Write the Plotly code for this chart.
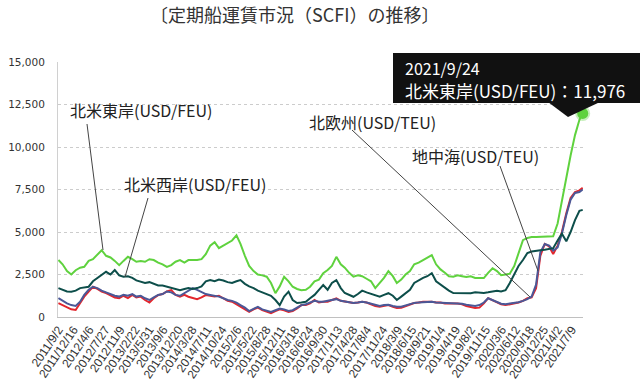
import plotly.graph_objects as go
import pandas as pd

# ---- data (monthly readings, first/last weekly points) ----
dates = ["2011-09-02"] + [f"{y}-{m:02d}-01" for y in range(2011, 2022) for m in range(1, 13)
                          if (y, m) >= (2011, 10) and (y, m) <= (2021, 9)] + ["2021-09-24"]

us_east = [3350, 3100, 2700, 2500, 2750, 2900, 2950, 3300, 3400, 3700,
           3930, 3600, 3500, 3300, 3050, 3300, 3540, 3400, 3250, 3300,
           3250, 3400, 3350, 3200, 3100, 2950, 3050, 3250, 3350, 3200,
           3350, 3350, 3350, 3400, 3700, 4200, 4400, 4050, 4200, 4300,
           4500, 4800, 4300, 3600, 3000, 2700, 2500, 2450, 2370, 2000,
           1400, 1800, 2370, 2100, 1780, 1650, 1580, 1600, 1780, 2100,
           2200, 2580, 2760, 3000, 3540, 3100, 2900, 2600, 2370, 2450,
           2400, 2250, 2100, 1700, 2000, 2300, 2700, 2400, 2000, 2200,
           2500, 2700, 3100, 3200, 3350, 3500, 3640, 3100, 2800, 2600,
           2400, 2370, 2450, 2400, 2350, 2400, 2300, 2300, 2290, 2600,
           2870, 2700, 2460, 2500, 2550, 3000, 3800, 4520, 4650, 4700,
           4700, 4710, 4720, 4750, 4750, 5500, 6900, 8300, 9500, 10700,
           11600, 11976]

us_west = [1700, 1600, 1500, 1490, 1550, 1700, 1750, 1780, 2100, 2290,
           2500, 2660, 2500, 2760, 2450, 2370, 2400, 2300, 2150, 2070,
           2000, 2050, 1950, 1850, 1850, 1780, 1700, 1650, 1580, 1650,
           1700, 1650, 1700, 1800, 2100, 2170, 2100, 2200, 2150, 2050,
           2000, 2100, 2170, 1950, 1800, 1700, 1550, 1450, 1350, 1250,
           1000, 700, 1200, 1490, 1000, 820, 850, 900, 1100, 1300,
           1600, 1880, 1600, 2000, 2170, 1700, 1410, 1300, 1190, 1350,
           1550, 1450, 1350, 1250, 1190, 1300, 1400, 1250, 1000, 1200,
           1410, 1600, 2000, 2170, 2300, 2400, 2580, 2100, 1900, 1700,
           1550, 1410, 1400, 1420, 1410, 1400, 1450, 1420, 1410, 1450,
           1500, 1550, 1500, 1580, 2000, 2500, 3000, 3350, 3760, 3850,
           3900, 3930, 3950, 4000, 4050, 4500, 4900, 4450, 5000, 5700,
           6250, 6300]

n_europe = [820, 700, 550, 450, 410, 800, 1200, 1500, 1780, 1650,
            1500, 1410, 1300, 1150, 1110, 1250, 1110, 1300, 1150, 1200,
            1000, 850, 1100, 1290, 1350, 1500, 1580, 1300, 1200, 1300,
            1190, 1100, 1050, 1150, 1290, 1250, 1200, 1250, 1100, 950,
            900, 750, 600, 450, 310, 450, 550, 400, 300, 230,
            350, 450, 400, 300, 350, 500, 700, 700, 800, 1000,
            850, 900, 900, 1000, 1100, 950, 900, 850, 820, 850,
            900, 850, 750, 650, 600, 650, 700, 600, 530, 550,
            650, 750, 820, 850, 900, 900, 900, 850, 850, 800,
            780, 800, 800, 750, 650, 600, 530, 550, 800, 1110,
            1000, 850, 750, 700, 750, 800, 850, 950, 1100, 1150,
            1700, 3600, 4300, 4150, 3700, 4200, 5000, 6100, 7000, 7350,
            7450, 7600]

mediterranean = [1110, 950, 800, 700, 650, 900, 1300, 1600, 1780, 1700,
                 1550, 1450, 1350, 1250, 1200, 1300, 1250, 1350, 1200, 1250,
                 1100, 1000, 1150, 1300, 1350, 1500, 1450, 1300, 1250, 1400,
                 1580, 1700, 1600, 1450, 1350, 1300, 1250, 1200, 1100, 1000,
                 950, 850, 700, 550, 350, 500, 600, 450, 350, 300,
                 400, 500, 450, 350, 400, 550, 700, 750, 850, 950,
                 900, 900, 950, 1000, 1050, 950, 900, 850, 830, 850,
                 900, 850, 780, 700, 650, 700, 720, 650, 600, 600,
                 680, 780, 830, 860, 880, 900, 900, 860, 850, 800,
                 800, 820, 810, 780, 720, 700, 650, 700, 850, 1100,
                 1000, 880, 780, 750, 780, 820, 870, 950, 1050, 1200,
                 1900, 3800, 4300, 4200, 3900, 4100, 4900, 6000, 6900, 7300,
                 7350, 7500]

tick_labels = ["2011/9/2", "2011/12/16", "2012/4/6", "2012/7/27", "2012/11/9", "2013/2/22",
               "2013/5/31", "2013/9/6", "2013/12/20", "2014/3/28", "2014/7/11", "2014/10/24",
               "2015/2/6", "2015/5/22", "2015/8/28", "2015/12/11", "2016/3/18", "2016/6/24",
               "2016/9/30", "2017/1/13", "2017/4/28", "2017/8/4", "2017/11/24", "2018/3/9",
               "2018/6/15", "2018/9/21", "2019/1/4", "2019/4/19", "2019/8/2", "2019/11/15",
               "2020/3/6", "2020/6/12", "2020/9/18", "2020/12/25", "2021/4/2", "2021/7/9"]
tick_vals = [pd.to_datetime(t.replace("/", "-")) for t in tick_labels]

y_ticks = [0, 2500, 5000, 7500, 10000, 12500, 15000]

GREEN = "#5fd23e"
TEAL = "#0d4e4a"
RED = "#e3262d"
BLUE = "#4b5897"

fig = go.Figure()
for vals, col in [(n_europe, RED), (mediterranean, BLUE), (us_west, TEAL), (us_east, GREEN)]:
    fig.add_trace(go.Scatter(x=dates, y=vals, mode="lines",
                             line=dict(color=col, width=2), hoverinfo="skip"))
fig.add_trace(go.Scatter(x=[dates[-1]], y=[us_east[-1]], mode="markers",
                         marker=dict(size=11, color=GREEN,
                                     line=dict(width=4, color="rgba(95,210,62,0.35)")),
                         hoverinfo="skip", cliponaxis=False))

W, H = 640, 389
# plot area in screen pixels
L, R, T, B = 58, 583, 62, 317
def px(x): return (x - L) / (R - L)
def py(y): return (B - y) / (B - T)

JP = "Noto Sans CJK JP"
ann = []
ann.append(dict(text="〔定期船運賃市況（SCFI）の推移〕", x=px(294), y=py(14), xanchor="center",
                yanchor="middle", font=dict(family=JP, size=18, color="#333")))
labels = [("北米東岸(USD/FEU)", 68, 110), ("北米西岸(USD/FEU)", 122, 184),
          ("北欧州(USD/TEU)", 307, 122), ("地中海(USD/TEU)", 410, 156)]
for t, x, y in labels:
    ann.append(dict(text=t, x=px(x), y=py(y), xanchor="left", yanchor="middle",
                    font=dict(family=JP, size=16, color="#222")))
ann.append(dict(text="2021/9/24", x=px(403), y=py(68), xanchor="left", yanchor="middle",
                font=dict(family=JP, size=16, color="white")))
ann.append(dict(text="北米東岸(USD/FEU)：11,976", x=px(403), y=py(90), xanchor="left",
                yanchor="middle", font=dict(family=JP, size=17, color="white")))
for a in ann:
    a.update(xref="paper", yref="paper", showarrow=False)

shapes = []
for (x0, y0, x1, y1) in [(87, 124, 103, 250), (148, 198, 125, 277),
                         (352, 130, 530, 297), (500, 166, 538, 271)]:
    shapes.append(dict(type="line", xref="paper", yref="paper", x0=px(x0), y0=py(y0),
                       x1=px(x1), y1=py(y1), line=dict(color="#444", width=1)))
shapes.append(dict(type="rect", xref="paper", yref="paper", x0=px(393), x1=px(660),
                   y0=py(103), y1=py(53), fillcolor="#111", line=dict(width=0), layer="above"))
shapes.append(dict(type="path", xref="paper", yref="paper",
                   path=f"M {px(548)},{py(102)} L {px(600)},{py(102)} L {px(568)},{py(117)} Z",
                   fillcolor="#111", line=dict(width=0), layer="above"))

fig.update_layout(
    width=W, height=H,
    margin=dict(l=L, r=W - R, t=T, b=H - B),
    paper_bgcolor="white", plot_bgcolor="white",
    showlegend=False,
    annotations=ann, shapes=shapes,
    xaxis=dict(type="date", range=["2011-08-30", "2021-09-26"],
               tickvals=tick_vals, ticktext=tick_labels, tickangle=-56,
               tickfont=dict(family="Liberation Sans", size=12, color="#333"),
               showgrid=False, showline=True, linecolor="#c0c0c0", linewidth=1,
               ticks="", zeroline=False, automargin=False),
    yaxis=dict(range=[0, 15000], tickvals=y_ticks, tickformat=",",
               tickfont=dict(family="DejaVu Sans", size=10.5, color="#333"),
               showgrid=True, gridcolor="#cccccc", griddash="dot", gridwidth=1,
               showline=True, linecolor="#d0d0d0", zeroline=False,
               ticks="", ticklabelstandoff=10, automargin=False),
)

fig.write_html("out.html", config={"displayModeBar": False},
               post_script="document.body.style.margin='0';document.body.style.overflow='hidden';")
